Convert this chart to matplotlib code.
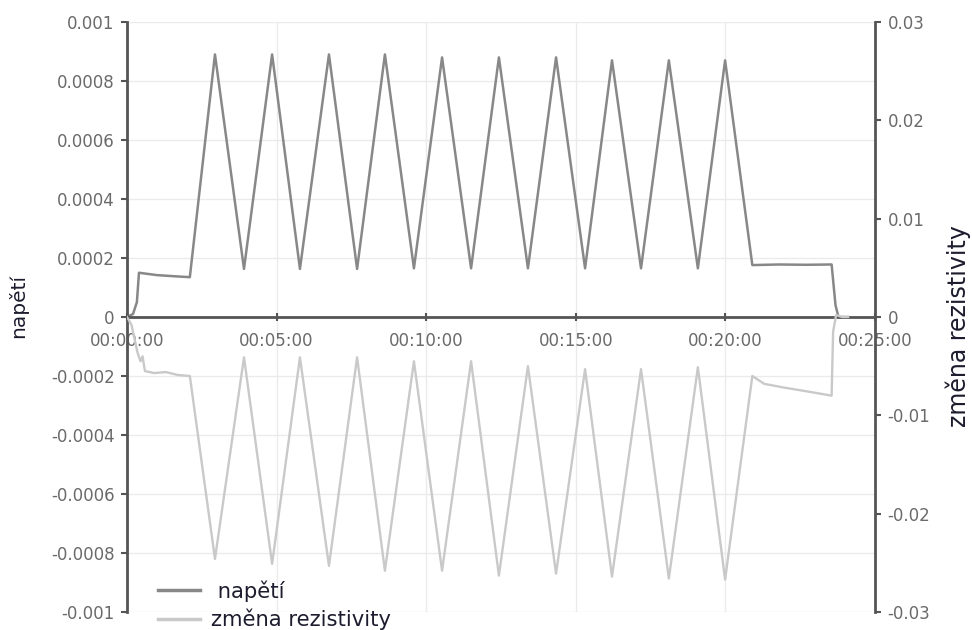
import matplotlib.pyplot as plt
from matplotlib.lines import Line2D

# time in minutes from start
t_nap = [0, 0.2, 0.33, 0.4, 1.0, 1.6, 2.1,
         2.94, 3.91, 4.85, 5.78, 6.75, 7.69, 8.62, 9.59, 10.53, 11.50,
         12.43, 13.40, 14.34, 15.31, 16.21, 17.18, 18.11, 19.08, 19.99,
         20.9, 21.8, 22.7, 23.55, 23.68, 23.78, 24.1]
napeti = [0, 0.00001, 0.00005, 0.00015, 0.000142, 0.000138, 0.000135,
          0.00089, 0.000163, 0.00089, 0.000163, 0.00089, 0.000163, 0.00089, 0.000165, 0.00088, 0.000165,
          0.00088, 0.000165, 0.00088, 0.000165, 0.00087, 0.000165, 0.00087, 0.000165, 0.00087,
          0.000176, 0.000178, 0.000177, 0.000178, 0.00004, 0.0, 0.0]

t_rez = [0, 0.15, 0.35, 0.45, 0.52, 0.6, 0.9, 1.3, 1.7, 2.1,
         2.94, 3.91, 4.85, 5.78, 6.75, 7.69, 8.62, 9.59, 10.53, 11.50,
         12.43, 13.40, 14.34, 15.31, 16.21, 17.18, 18.11, 19.08, 19.99,
         20.9, 21.3, 22.0, 22.8, 23.55, 23.6, 23.7, 23.9, 24.1]
rezistivita = [0, -0.0008, -0.0036, -0.0045, -0.004, -0.0055, -0.0057, -0.0056, -0.0059, -0.006,
               -0.0246, -0.0041, -0.0251, -0.0041, -0.0253, -0.0041, -0.0258, -0.0045, -0.0258, -0.0045,
               -0.0263, -0.0050, -0.0261, -0.0053, -0.0264, -0.0053, -0.0266, -0.0051, -0.0267,
               -0.0060, -0.0068, -0.0072, -0.0076, -0.0080, -0.0015, 0.0002, 0.0, 0.0]

x_ticks = [0, 5, 10, 15, 20, 25]
x_labels = ['00:00:00', '00:05:00', '00:10:00', '00:15:00', '00:20:00', '00:25:00']
left_ticks = [-0.001, -0.0008, -0.0006, -0.0004, -0.0002, 0, 0.0002, 0.0004, 0.0006, 0.0008, 0.001]
left_labels = ['-0.001', '-0.0008', '-0.0006', '-0.0004', '-0.0002', '0',
               '0.0002', '0.0004', '0.0006', '0.0008', '0.001']
right_ticks = [-0.03, -0.02, -0.01, 0, 0.01, 0.02, 0.03]
right_labels = ['-0.03', '-0.02', '-0.01', '0', '0.01', '0.02', '0.03']

c_nap = '#888888'
c_rez = '#c9c9c9'
c_axis = '#555555'
c_text = '#6a6a6a'

fig = plt.figure(figsize=(9.72, 6.3), dpi=100)
ax = fig.add_axes([127/972, 1-612/630, (875-127)/972, (612-22)/630])
ax2 = ax.twinx()

ax.plot(t_nap, napeti, color=c_nap, lw=1.8)
ax2.plot(t_rez, rezistivita, color=c_rez, lw=1.7)

ax.set_xlim(0, 25)
ax.set_ylim(-0.001, 0.001)
ax2.set_ylim(-0.03, 0.03)

ax.set_xticks(x_ticks)
ax.set_xticklabels(x_labels)
ax.set_yticks(left_ticks)
ax.set_yticklabels(left_labels)
ax2.set_yticks(right_ticks)
ax2.set_yticklabels(right_labels)

ax.grid(True, color='#ebebeb', lw=1.0)
ax.set_axisbelow(True)

for s in ['top', 'right']:
    ax.spines[s].set_visible(False)
for s in ['top', 'left', 'bottom']:
    ax2.spines[s].set_visible(False)
ax.spines['bottom'].set_position(('data', 0))
ax.spines['left'].set_color(c_axis)
ax.spines['bottom'].set_color(c_axis)
ax2.spines['right'].set_color(c_axis)
ax.spines['left'].set_linewidth(2)
ax.spines['bottom'].set_linewidth(2)
ax2.spines['right'].set_linewidth(2)

ax.tick_params(axis='y', colors=c_axis, labelcolor=c_text, length=4, width=1.5, pad=5,
               labelsize=12)
ax.tick_params(axis='x', colors=c_axis, labelcolor=c_text, direction='inout', length=6, width=1.5,
               pad=8, labelsize=12)
ax2.tick_params(axis='y', colors=c_axis, labelcolor=c_text, length=4, width=1.5, pad=5,
                labelsize=12)

fig.text(18/972, 1-306/630, 'napětí', rotation=90, ha='center', va='center',
         fontsize=14.5, color='#1c1c2e')
fig.text(958/972, 1-326/630, 'změna rezistivity', rotation=90, ha='center', va='center',
         fontsize=17, color='#1c1c2e')

handles = [Line2D([], [], color=c_nap, lw=2.5), Line2D([], [], color=c_rez, lw=2.5)]
leg = fig.legend(handles, [' napětí', 'změna rezistivity'], loc='upper left',
                 bbox_to_anchor=(158/972, 1-580/630), frameon=False, fontsize=15.2,
                 handlelength=2.0, handletextpad=0.5, labelspacing=0.35, borderpad=0,
                 borderaxespad=0)
for txt in leg.get_texts():
    txt.set_color('#1c1c2e')

fig.savefig('out.png', dpi=100, facecolor='white')
